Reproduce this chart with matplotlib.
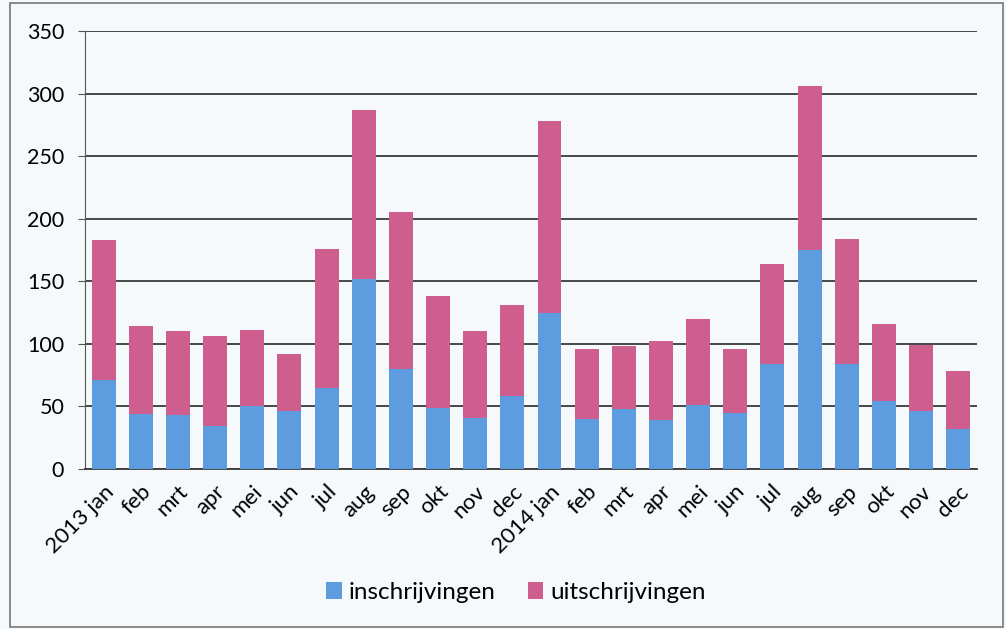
import numpy as np
import matplotlib
matplotlib.use('Agg')
import matplotlib.pyplot as plt
from matplotlib.patches import Rectangle

plt.rcParams['font.family'] = ['Lato', 'DejaVu Sans']

# maanden
maanden = ['2013 jan', 'feb', 'mrt', 'apr', 'mei', 'jun', 'jul', 'aug', 'sep', 'okt', 'nov', 'dec',
           '2014 jan', 'feb', 'mrt', 'apr', 'mei', 'jun', 'jul', 'aug', 'sep', 'okt', 'nov', 'dec']
# inschrijvingen (blauw)
inschrijvingen = [71, 44, 43, 34, 50, 46, 65, 152, 80, 49, 41, 58,
                  125, 40, 48, 39, 51, 45, 84, 175, 84, 54, 46, 32]
# uitschrijvingen (roze), bovenop gestapeld
totaal = [183, 114, 110, 106, 111, 92, 176, 287, 205, 138, 110, 131,
          278, 96, 98, 102, 120, 96, 164, 306, 184, 116, 99, 78]
uitschrijvingen = [t - i for t, i in zip(totaal, inschrijvingen)]

blauw = '#5e9ce0'
roze = '#cd5e8e'
achter = '#f5f9fc'

fig = plt.figure(figsize=(10.06, 6.29), dpi=100, facecolor=achter)
ax = fig.add_axes([0.0845, 0.2544, 0.8865, 0.6963])
ax.set_facecolor(achter)

x = np.arange(len(maanden))
ax.bar(x, inschrijvingen, width=0.645, color=blauw, label='inschrijvingen', zorder=3)
ax.bar(x, uitschrijvingen, width=0.645, bottom=inschrijvingen, color=roze, label='uitschrijvingen', zorder=3)

ax.set_xlim(-0.5, 23.5)
ax.set_ylim(0, 350)
ax.set_yticks(range(0, 351, 50))
ax.yaxis.grid(True, color='#3a3a3a', linewidth=1.3, zorder=1)
ax.tick_params(axis='y', labelsize=15.5, length=5, color='#555555', pad=10)
ax.tick_params(axis='x', length=0, pad=9)
ax.set_xticks(x)
ax.set_xticklabels(maanden, rotation=45, ha='right', rotation_mode='anchor', fontsize=16)

for s in ['top', 'right']:
    ax.spines[s].set_visible(False)
ax.spines['left'].set_color('#555555')
ax.spines['bottom'].set_color('#3a3a3a')
ax.spines['bottom'].set_linewidth(1.3)

# legenda onderaan
fig.legend(loc='center', bbox_to_anchor=(0.513, 0.058), ncol=2, frameon=False,
           fontsize=17.5, handlelength=0.65, handleheight=0.65, handletextpad=0.3, columnspacing=1.3)

# rand om de grafiek
fig.patches.append(Rectangle((10 / 1006, 2 / 629), 993 / 1006, 624 / 629, transform=fig.transFigure,
                             fill=False, edgecolor='#777777', linewidth=1.2))

fig.savefig('out.png', dpi=100, facecolor=achter)
